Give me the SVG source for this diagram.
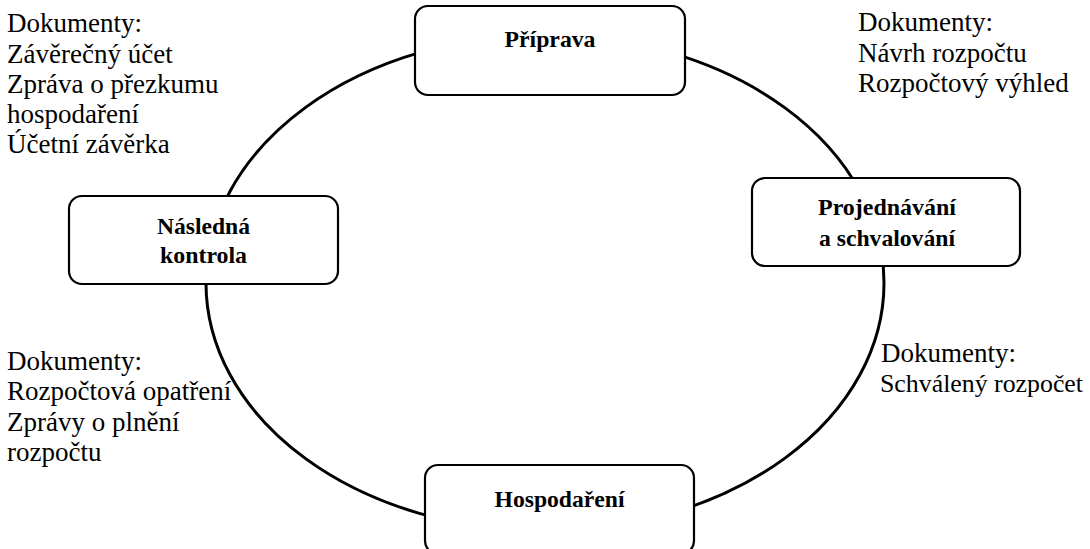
<svg xmlns="http://www.w3.org/2000/svg" width="1090" height="549" viewBox="0 0 1090 549">
<style>
.box{fill:#fff;stroke:#000;stroke-width:2.2}
.lbl{font-weight:bold;font-size:24px;text-anchor:middle;fill:#000}
.doc{font-size:27px;fill:#000}
.cyc{fill:none;stroke:#000;stroke-width:3}
</style>
<rect width="1090" height="549" fill="#fff"/>
<g id="connectors">
<ellipse class="cyc" cx="545" cy="283" rx="339" ry="248"/>
</g>
<g font-family="Liberation Serif, Times New Roman, DejaVu Serif, serif">
<g id="priprava">
<rect class="box" x="415" y="6" width="270" height="89" rx="13"/>
<text class="lbl" x="550" y="47" textLength="91" lengthAdjust="spacingAndGlyphs">Příprava</text>
</g>
<g id="projednavani">
<rect class="box" x="752" y="178" width="268" height="88" rx="13"/>
<text class="lbl" x="887" y="215" textLength="138" lengthAdjust="spacingAndGlyphs">Projednávání</text>
<text class="lbl" x="887" y="246" textLength="136" lengthAdjust="spacingAndGlyphs">a schvalování</text>
</g>
<g id="hospodareni">
<rect class="box" x="425" y="465" width="269" height="89" rx="13"/>
<text class="lbl" x="559.5" y="507" textLength="130" lengthAdjust="spacingAndGlyphs">Hospodaření</text>
</g>
<g id="nasledna">
<rect class="box" x="69" y="196" width="269" height="88" rx="13"/>
<text class="lbl" x="203.5" y="234" textLength="93" lengthAdjust="spacingAndGlyphs">Následná</text>
<text class="lbl" x="203.5" y="263" textLength="87" lengthAdjust="spacingAndGlyphs">kontrola</text>
</g>
<g id="docs-tl" class="doc">
<text x="7" y="32">Dokumenty:</text>
<text x="7" y="63">Závěrečný účet</text>
<text x="7" y="93">Zpráva o přezkumu</text>
<text x="7" y="123">hospodaření</text>
<text x="7" y="153">Účetní závěrka</text>
</g>
<g id="docs-tr" class="doc">
<text x="858" y="31">Dokumenty:</text>
<text x="858" y="62">Návrh rozpočtu</text>
<text x="858" y="92">Rozpočtový výhled</text>
</g>
<g id="docs-bl" class="doc">
<text x="7" y="370">Dokumenty:</text>
<text x="7" y="400">Rozpočtová opatření</text>
<text x="7" y="431">Zprávy o plnění</text>
<text x="7" y="461">rozpočtu</text>
</g>
<g id="docs-br" class="doc">
<text x="881" y="362">Dokumenty:</text>
<text x="880" y="392" font-size="26" textLength="203" lengthAdjust="spacingAndGlyphs">Schválený rozpočet</text>
</g>
</g>
</svg>
